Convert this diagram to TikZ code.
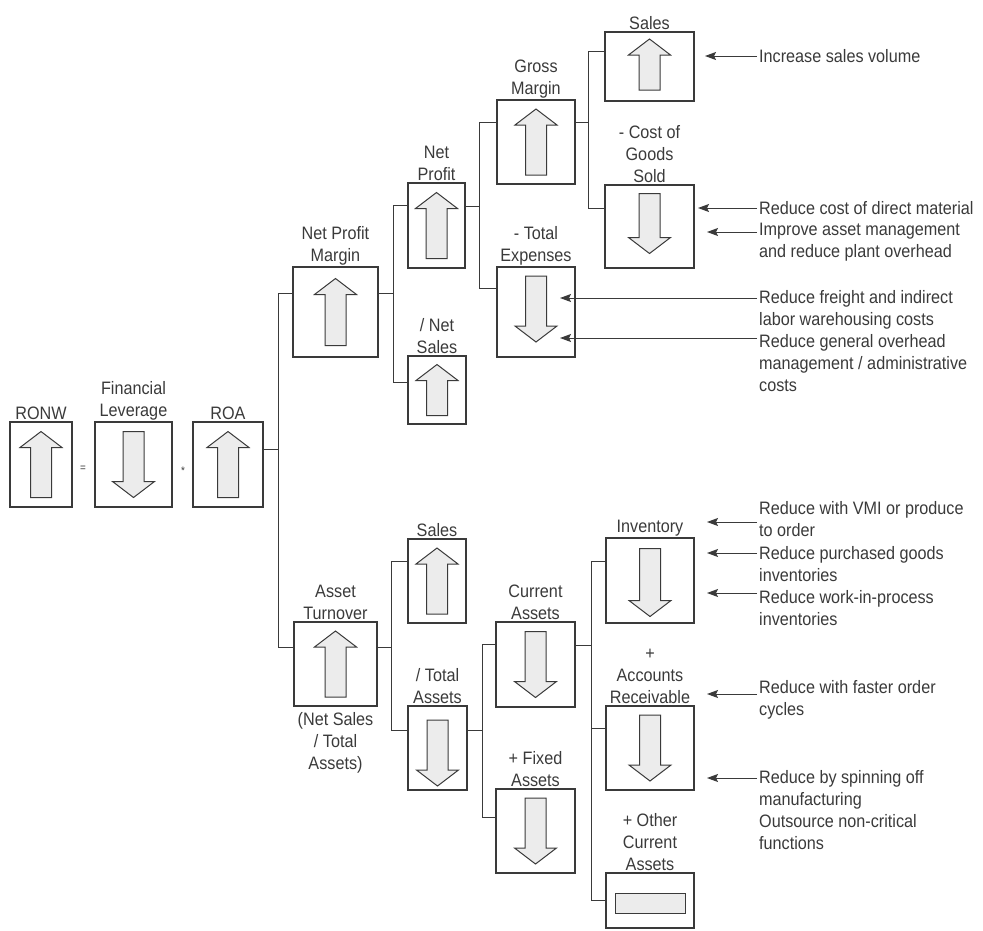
\documentclass[tikz,border=0pt]{standalone}
\usepackage{fontspec}
\setmainfont[FakeStretch=0.9]{Liberation Sans}
\usetikzlibrary{arrows.meta}

\definecolor{inkgray}{HTML}{3A3A3A}
\definecolor{shadegray}{HTML}{ECECEC}

\tikzset{
  box/.style 2 args={draw=inkgray, line width=1.1pt, inner sep=0pt,
    outer sep=0pt, minimum width=#1pt, minimum height=#2pt},
  tag/.style={inner sep=0pt, align=center, text=inkgray, label distance=2pt},
  note/.style={inner sep=0pt, align=left, anchor=north west, text=inkgray},
  link/.style={draw=inkgray, line width=1pt},
  hint/.style={draw=inkgray, line width=1pt,
    -{Stealth[length=11pt,width=8pt,inset=2pt]}},
  blockarrow/.style={draw=inkgray, line width=1pt, fill=shadegray},
  pics/arrup/.style={code={
    \draw[blockarrow] (0,-#1/2) -- (21,-#1/2+16) -- (10.5,-#1/2+16)
      -- (10.5,#1/2) -- (-10.5,#1/2) -- (-10.5,-#1/2+16)
      -- (-21,-#1/2+16) -- cycle;}},
  pics/arrdn/.style={code={\pic[rotate=180]{arrup=#1};}}
}

\begin{document}
\begin{tikzpicture}[x=1pt, y=-1pt, font=\fontsize{18}{22}\selectfont]
  \useasboundingbox (0,0) rectangle (983,930);

  % left equation
  \node[box={62}{85}, label={[tag]above:RONW}] (ronw) at (41,464.5) {};
  \node[box={77}{85}, label={[tag]above:Financial\\Leverage}] (lev) at (133.5,464.5) {};
  \node[box={70}{85}, label={[tag]above:ROA}] (roa) at (228,464.5) {};
  \node[text=inkgray, font=\fontsize{11}{12}\selectfont] (eq) at (83,469) {=};
  \node[text=inkgray, font=\fontsize{11}{12}\selectfont] (times) at (183,471) {*};

  % margin branch
  \node[box={85}{90}, label={[tag]above:Net Profit\\Margin}] (npm) at (335.5,312) {};
  \node[box={57}{85}, label={[tag]above:Net\\Profit}] (np) at (436.5,225.5) {};
  \node[box={58}{68}, label={[tag]above:/ Net\\Sales}] (ns) at (437,390) {};
  \node[box={78}{84}, label={[tag]above:Gross\\Margin}] (gm) at (536,142) {};
  \node[box={78}{90}, label={[tag]above:- Total\\Expenses}] (te) at (536,312) {};
  \node[box={89}{69}, label={[tag]above:Sales}] (sal1) at (649.5,66.5) {};
  \node[box={89}{83}, label={[tag]above:- Cost of\\Goods\\Sold}] (cogs) at (649.5,226.5) {};

  % turnover branch
  \node[box={83}{84}, label={[tag]above:Asset\\Turnover},
    label={[tag, label distance=6pt]below:(Net Sales\\/ Total\\Assets)}] (at) at (335.5,664) {};
  \node[box={58}{84}, label={[tag]above:Sales}] (sal2) at (437,581) {};
  \node[box={59}{84}, label={[tag]above:/ Total\\Assets}] (ta) at (437.5,748) {};
  \node[box={79}{85}, label={[tag]above:Current\\Assets}] (ca) at (535.5,664.5) {};
  \node[box={79}{84}, label={[tag]above:+ Fixed\\Assets}] (fa) at (535.5,831) {};
  \node[box={88}{85}, label={[tag]above:Inventory}] (inv) at (650,580.5) {};
  \node[box={88}{84}, label={[tag]above:+\\Accounts\\Receivable}] (ar) at (650,748) {};
  \node[box={88}{55}, label={[tag]above:+ Other\\Current\\Assets}] (oca) at (650,900.5) {};

  % block arrows
  \pic at (ronw.center) {arrup=66};
  \pic at (lev.center) {arrdn=66};
  \pic at (roa.center) {arrup=66};
  \pic at (npm.center) {arrup=67};
  \pic at (np.center) {arrup=66};
  \pic at (ns.center) {arrup=51};
  \pic at (gm.center) {arrup=66};
  \pic at ([yshift=3pt]te.center) {arrdn=66};
  \pic at ([yshift=2pt]sal1.center) {arrup=51};
  \pic at ([yshift=3pt]cogs.center) {arrdn=60};
  \pic at (at.center) {arrup=66};
  \pic at (sal2.center) {arrup=66};
  \pic at ([yshift=-5pt]ta.center) {arrdn=66};
  \pic at (ca.center) {arrdn=66};
  \pic at (fa.center) {arrdn=66};
  \pic at ([yshift=-2pt]inv.center) {arrdn=68};
  \pic at (ar.center) {arrdn=66};
  \draw[blockarrow] (oca.center) ++(-35,-7.5) rectangle ++(70,20);

  % tree connectors
  \draw[link] ([yshift=15.5pt]roa.east) -- ++(15,0) coordinate (busroa)
    |- ([yshift=19pt]npm.west);
  \draw[link] (busroa) |- ([yshift=17pt]at.west);
  \draw[link] ([yshift=19pt]npm.east) -- ++(15,0) coordinate (busnpm)
    |- ([yshift=20.5pt]np.west);
  \draw[link] (busnpm) |- ([yshift=8pt]ns.west);
  \draw[link] ([yshift=19.5pt]np.east) -- ++(14,0) coordinate (busnp)
    |- ([yshift=20pt]gm.west);
  \draw[link] (busnp) |- ([yshift=24pt]te.west);
  \draw[link] ([yshift=20pt]gm.east) -- ++(13,0) coordinate (busgm)
    |- ([yshift=15.5pt]sal1.west);
  \draw[link] (busgm) |- ([yshift=18.5pt]cogs.west);
  \draw[link] ([yshift=17pt]at.east) -- ++(14,0) coordinate (busat)
    |- ([yshift=20pt]sal2.west);
  \draw[link] (busat) |- ([yshift=18pt]ta.west);
  \draw[link] ([yshift=18pt]ta.east) -- ++(15,0) coordinate (busta)
    |- ([yshift=20.5pt]ca.west);
  \draw[link] (busta) |- ([yshift=14pt]fa.west);
  \draw[link] ([yshift=19.5pt]ca.east) -- ++(16,0) coordinate (busca)
    |- ([yshift=19.5pt]inv.west);
  \draw[link] (busca) |- ([yshift=20pt]ar.west);
  \draw[link] (busca) |- ([yshift=0.5pt]oca.west);

  % improvement notes
  \node[note] (n1) at (759,49) {Increase sales volume};
  \node[note] (n2) at (759,201) {Reduce cost of direct material};
  \node[note] (n3) at (759,223) {Improve asset management\\and reduce plant overhead};
  \node[note] (n4) at (759,290) {Reduce freight and indirect\\labor warehousing costs};
  \node[note] (n5) at (759,334) {Reduce general overhead\\management / administrative\\costs};
  \node[note] (n6) at (759,501) {Reduce with VMI or produce\\to order};
  \node[note] (n7) at (759,546) {Reduce purchased goods\\inventories};
  \node[note] (n8) at (759,590) {Reduce work-in-process\\inventories};
  \node[note] (n9) at (759,680) {Reduce with faster order\\cycles};
  \node[note] (n10) at (759,770) {Reduce by spinning off\\manufacturing\\Outsource non-critical\\functions};

  \coordinate (h1) at (705,56);
  \coordinate (h2) at (698,208);
  \coordinate (h3) at (707,232);
  \coordinate (h4) at (560,298);
  \coordinate (h5) at (560,338);
  \coordinate (h6) at (707,522);
  \coordinate (h7) at (707,553);
  \coordinate (h8) at (707,593);
  \coordinate (h9) at (707,694);
  \coordinate (h10) at (707,778);
  \foreach \i in {1,...,10}
    \draw[hint] ([xshift=-2pt]n\i.west |- h\i) -- (h\i);
\end{tikzpicture}
\end{document}
